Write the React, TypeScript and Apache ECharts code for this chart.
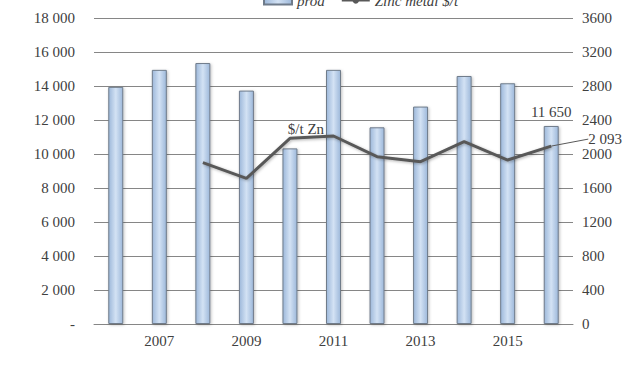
import React, { useEffect, useRef } from "react";
import * as echarts from "echarts";

const years = ["2006", "2007", "2008", "2009", "2010", "2011", "2012", "2013", "2014", "2015", "2016"];
const prodValues = [13950, 14950, 15350, 13730, 10330, 14950, 11570, 12790, 14590, 14160, 11650];
const priceValues: (number | null)[] = [null, null, 1898, 1714, 2184, 2212, 1968, 1909, 2145, 1929, 2093];
const legendNames = ["prod", "Zinc metal $/t"];

const FONT = "Liberation Serif";
const SHIFT = 9;

function fmtThousands(v: number): string {
  if (v === 0) return "-";
  return String(v).replace(/\B(?=(\d{3})+(?!\d))/g, " ");
}

export default function App() {
  const ref = useRef<HTMLDivElement>(null);
  useEffect(() => {
    if (!ref.current) return;
    const chart = echarts.init(ref.current, undefined, { renderer: "svg" });
    const lastIdx = years.length - 1;
    const txt = { fontFamily: FONT, fontSize: 15, color: "#404040" };
    chart.setOption({
      animation: false,
      textStyle: { fontFamily: FONT },
      legend: {
        top: 2,
        left: 263,
        padding: 0,
        itemWidth: 28,
        itemHeight: 8,
        itemGap: 16,
        textStyle: { ...txt, fontStyle: "italic" },
        data: [
          { name: legendNames[0], icon: "rect" },
          { name: legendNames[1] },
        ],
      },
      grid: { left: 94, right: 63, top: 18 + SHIFT, bottom: 56 },
      xAxis: {
        type: "category",
        data: years,
        axisLine: { lineStyle: { color: "#868686" } },
        axisTick: { show: false },
        axisLabel: {
          interval: (i: number) => i % 2 === 1,
          ...txt,
          margin: 9,
        },
      },
      yAxis: [
        {
          type: "value",
          min: 0,
          max: 18000,
          interval: 2000,
          axisLine: { show: false },
          axisTick: { show: false },
          splitLine: { lineStyle: { color: "#868686", width: 1 } },
          axisLabel: {
            formatter: (v: number) => fmtThousands(v),
            ...txt,
            margin: 19,
          },
        },
        {
          type: "value",
          min: 0,
          max: 3600,
          interval: 400,
          position: "right",
          axisLine: { show: false },
          axisTick: { show: false },
          splitLine: { show: false },
          axisLabel: {
            formatter: (v: number) => String(v),
            ...txt,
            margin: 9,
          },
        },
      ],
      series: [
        {
          name: legendNames[0],
          type: "bar",
          barWidth: 15,
          yAxisIndex: 0,
          itemStyle: {
            color: new echarts.graphic.LinearGradient(0, 0, 1, 0, [
              { offset: 0, color: "#9db8da" },
              { offset: 0.5, color: "#d3e2f4" },
              { offset: 1, color: "#9db8da" },
            ]),
            borderColor: "#6f7b8a",
            borderWidth: 1,
            shadowColor: "rgba(0,0,0,0.25)",
            shadowBlur: 3,
            shadowOffsetX: 1,
            shadowOffsetY: 1,
          },
          data: prodValues.map((v, i) =>
            i === lastIdx
              ? {
                  value: v,
                  label: {
                    show: true,
                    position: "top",
                    distance: 6,
                    formatter: () => fmtThousands(v),
                    ...txt,
                  },
                }
              : v
          ),
        },
        {
          name: legendNames[1],
          type: "line",
          yAxisIndex: 1,
          symbol: "circle",
          symbolSize: 0.1,
          showSymbol: true,
          lineStyle: {
            color: "#595959",
            width: 3,
            shadowColor: "rgba(0,0,0,0.3)",
            shadowBlur: 3,
            shadowOffsetX: 1,
            shadowOffsetY: 1,
          },
          itemStyle: { color: "#595959" },
          labelLayout: (params: any) => {
            if (params.dataIndex === lastIdx) return { dx: 32, dy: -7 };
            if (params.dataIndex === 4) return { dx: 16, dy: 3 };
            return {};
          },
          labelLine: { show: true, lineStyle: { color: "#595959", width: 1 } },
          data: priceValues.map((v, i) => {
            if (i === 4) {
              return {
                value: v,
                label: {
                  show: true,
                  position: "top",
                  formatter: () => "$/t Zn",
                  ...txt,
                },
                labelLine: { show: false },
              };
            }
            if (i === lastIdx) {
              return {
                value: v,
                label: {
                  show: true,
                  position: "right",
                  formatter: () => fmtThousands(v as number),
                  ...txt,
                },
                labelLine: { show: true, lineStyle: { color: "#595959", width: 1 } },
              };
            }
            return v;
          }),
        },
      ],
    });
    return () => chart.dispose();
  }, []);
  return (
    <div
      ref={ref}
      style={{ width: 636, height: 380 + SHIFT, position: "absolute", left: 0, top: -SHIFT }}
    />
  );
}
